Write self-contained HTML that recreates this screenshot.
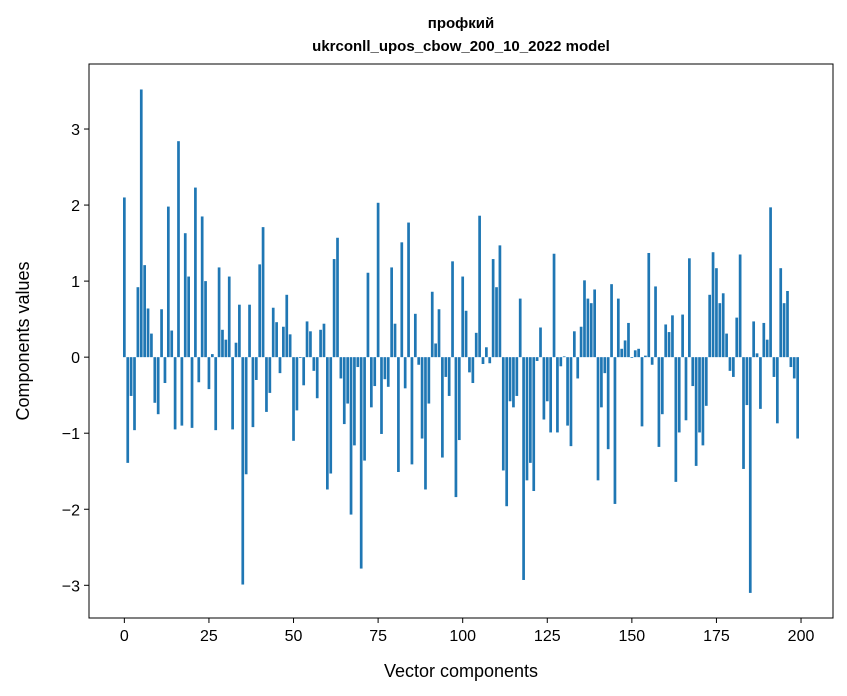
<!DOCTYPE html>
<html><head><meta charset="utf-8">
<style>
html,body{margin:0;padding:0;background:#fff;}
svg{display:block;font-family:"Liberation Sans","DejaVu Sans",sans-serif;}
</style></head>
<body>
<svg id="chart" width="847" height="696" viewBox="0 0 847 696" xmlns="http://www.w3.org/2000/svg">
<rect x="0" y="0" width="847" height="696" fill="#fff"/>
<text x="461" y="28" text-anchor="middle" font-size="15" font-weight="bold">профкий</text>
<text x="461" y="51" text-anchor="middle" font-size="15" font-weight="bold">ukrconll_upos_cbow_200_10_2022 model</text>
<g id="bars"></g>
<g id="xticks"></g>
<g id="yticks"></g>
<rect x="89" y="64" width="744" height="554" fill="none" stroke="#000" stroke-width="1"/>
<text x="461" y="677" text-anchor="middle" font-size="18">Vector components</text>
<text x="29" y="341" text-anchor="middle" font-size="18" transform="rotate(-90 29 341)">Components values</text>
</svg>
<script>
const values = [2.1,-1.39,-0.51,-0.96,0.92,3.52,1.21,0.64,0.31,-0.6,-0.75,0.63,-0.34,1.98,0.35,-0.95,2.84,-0.9,1.63,1.06,
-0.93,2.23,-0.33,1.85,1.0,-0.42,0.04,-0.96,1.18,0.36,0.23,1.06,-0.95,0.19,0.69,-2.99,-1.54,0.69,-0.92,-0.3,
1.22,1.71,-0.72,-0.47,0.65,0.46,-0.21,0.4,0.82,0.3,-1.1,-0.7,-0.01,-0.37,0.47,0.34,-0.18,-0.54,0.36,0.44,
-1.74,-1.53,1.29,1.57,-0.28,-0.88,-0.61,-2.07,-1.16,-0.13,-2.78,-1.36,1.11,-0.66,-0.38,2.03,-1.01,-0.29,-0.39,1.18,
0.44,-1.51,1.51,-0.41,1.77,-1.41,0.57,-0.1,-1.07,-1.74,-0.61,0.86,0.18,0.63,-1.32,-0.26,-0.51,1.26,-1.84,-1.09,
1.06,0.61,-0.2,-0.34,0.32,1.86,-0.09,0.13,-0.08,1.29,0.92,1.47,-1.49,-1.96,-0.58,-0.66,-0.51,0.77,-2.93,-1.62,
-1.39,-1.76,-0.05,0.39,-0.82,-0.58,-0.99,1.36,-0.99,-0.12,0.01,-0.9,-1.17,0.34,-0.28,0.4,1.01,0.77,0.71,0.89,
-1.62,-0.66,-0.21,-1.21,0.96,-1.93,0.77,0.11,0.22,0.45,-0.01,0.09,0.11,-0.91,0.02,1.37,-0.1,0.93,-1.18,-0.75,
0.43,0.33,0.55,-1.64,-0.99,0.56,-0.83,1.3,-0.38,-1.43,-0.99,-1.16,-0.64,0.82,1.38,1.17,0.71,0.84,0.31,-0.18,
-0.26,0.52,1.35,-1.47,-0.63,-3.1,0.47,0.05,-0.68,0.45,0.23,1.97,-0.26,-0.87,1.17,0.71,0.87,-0.13,-0.28,-1.07];
const xTickLabels = [0,25,50,75,100,125,150,175,200];
const yTickLabels = [-3,-2,-1,0,1,2,3];

const NS = "http://www.w3.org/2000/svg";
const PL = 89, PR = 833, PT = 64, PB = 618;
const xMin = -10.45, xMax = 209.45, yMin = -3.43, yMax = 3.855;
function xs(v){ return PL + (v - xMin) / (xMax - xMin) * (PR - PL); }
function ys(v){ return PT + (yMax - v) / (yMax - yMin) * (PB - PT); }

const barsG = document.getElementById('bars');
values.forEach((v, i) => {
  const r = document.createElementNS(NS, 'rect');
  const x0 = xs(i - 0.4), x1 = xs(i + 0.4);
  const y0 = ys(Math.max(v, 0)), y1 = ys(Math.min(v, 0));
  r.setAttribute('x', x0);
  r.setAttribute('width', x1 - x0);
  r.setAttribute('y', y0);
  r.setAttribute('height', Math.max(y1 - y0, 0.3));
  r.setAttribute('fill', '#1f77b4');
  
  
  barsG.appendChild(r);
});

const xg = document.getElementById('xticks');
xTickLabels.forEach(t => {
  const x = xs(t);
  const l = document.createElementNS(NS, 'line');
  l.setAttribute('x1', x); l.setAttribute('x2', x);
  l.setAttribute('y1', PB); l.setAttribute('y2', PB + 5);
  l.setAttribute('stroke', '#000');
  
  
  xg.appendChild(l);
  const tx = document.createElementNS(NS, 'text');
  tx.setAttribute('x', x); tx.setAttribute('y', PB + 23);
  tx.setAttribute('text-anchor', 'middle');
  tx.setAttribute('font-size', '16');
  tx.textContent = t;
  
  
  xg.appendChild(tx);
});

const yg = document.getElementById('yticks');
yTickLabels.forEach(t => {
  const y = ys(t);
  const l = document.createElementNS(NS, 'line');
  l.setAttribute('x1', PL - 5); l.setAttribute('x2', PL);
  l.setAttribute('y1', y); l.setAttribute('y2', y);
  l.setAttribute('stroke', '#000');
  
  
  yg.appendChild(l);
  const tx = document.createElementNS(NS, 'text');
  tx.setAttribute('x', PL - 9); tx.setAttribute('y', y + 6);
  tx.setAttribute('text-anchor', 'end');
  tx.setAttribute('font-size', '16');
  tx.textContent = t < 0 ? '\u2212' + Math.abs(t) : String(t);
  
  
  yg.appendChild(tx);
});
</script>
</body></html>
